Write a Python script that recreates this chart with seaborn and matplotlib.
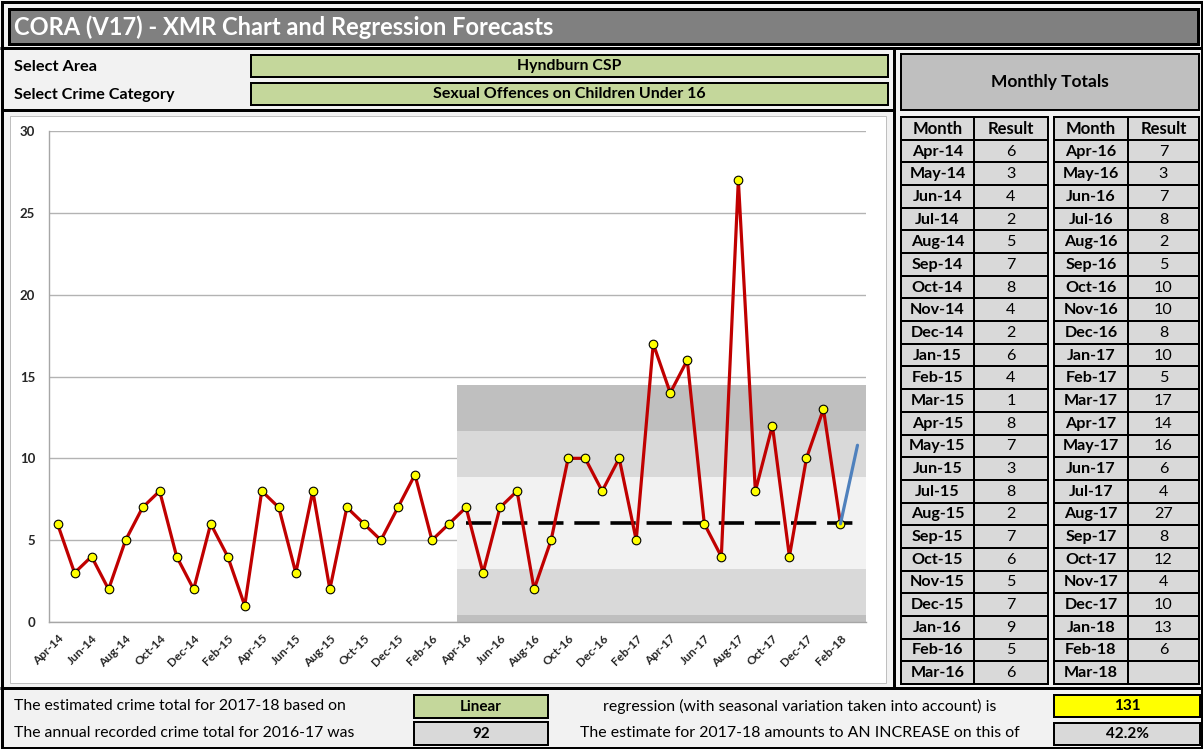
import numpy as np
import pandas as pd
import matplotlib
matplotlib.use('Agg')
import matplotlib.pyplot as plt
import matplotlib.patches as patches
import seaborn as sns

# ---- data read from the sheet ----
months = list(pd.date_range('2014-04-01', periods=48, freq='MS').strftime('%b-%y'))
results = [6, 3, 4, 2, 5, 7, 8, 4, 2, 6, 4, 1,
           8, 7, 3, 8, 2, 7, 6, 5, 7, 9, 5, 6,
           7, 3, 7, 8, 2, 5, 10, 10, 8, 10, 5, 17,
           14, 16, 6, 4, 27, 8, 12, 4, 10, 13, 6, None]
forecast_months = ['Feb-18', 'Mar-18']
forecast_values = [6, 10.8]
xmr_start = 'Apr-16'
xmr_centre = 6.06
xmr_sigma = 2.81

title = 'CORA (V17) - XMR Chart and Regression Forecasts'
area = 'Hyndburn CSP'
crime_category = 'Sexual Offences on Children Under 16'
method = 'Linear'
estimate_1718 = '131'
total_1617 = '92'
change_pct = '42.2%'

df = pd.DataFrame({'month': months, 'result': results})
df['idx'] = range(len(df))

sns.set_style('white')
plt.rcParams['font.family'] = ['Lato', 'DejaVu Sans']

PX = 0.72  # points per pixel at dpi 100
GREEN = '#c4d79b'
LGREY = '#d9d9d9'

fig = plt.figure(figsize=(12.03, 7.49), dpi=100, facecolor='#f2f2f2')

# background layer in pixel coords for the sheet furniture
bg = fig.add_axes([0, 0, 1, 1])
bg.set_xlim(0, 1203)
bg.set_ylim(749, 0)
bg.axis('off')


def box(x0, y0, x1, y1, fc, ec='black', lw=2.0):
    bg.add_patch(patches.Rectangle((x0, y0), x1 - x0, y1 - y0, facecolor=fc,
                                   edgecolor=ec, linewidth=lw * PX))


def hline(x0, x1, y, lw=3):
    bg.plot([x0, x1], [y, y], color='black', lw=lw * PX, solid_capstyle='butt')


def vline(x, y0, y1, lw=3):
    bg.plot([x, x], [y0, y1], color='black', lw=lw * PX, solid_capstyle='butt')


def txt(x, y, s, size=10.5, bold=False, ha='left', color='black'):
    bg.text(x, y, s, fontsize=size, fontweight='bold' if bold else 'normal',
            ha=ha, va='center', color=color)


# outer frame, title bar, dividers
box(1.5, 1.5, 1201.5, 747.5, 'none', lw=3)
box(9, 9, 1198, 44, '#808080', lw=3)
txt(14, 27, title, size=17, bold=True, color='white')
hline(0, 1203, 47.5)
hline(2, 894, 110)
vline(894, 47.5, 688)
hline(0, 1203, 688)

# selectors
txt(14, 67, 'Select Area', size=11.8, bold=True)
txt(14, 95, 'Select Crime Category', size=11.6, bold=True)
box(251, 55, 888, 77, GREEN)
box(251, 83, 888, 105, GREEN)
txt(569, 66, area, size=11.4, bold=True, ha='center')
txt(569, 94, crime_category, size=11.5, bold=True, ha='center')

# monthly totals table
box(901, 54, 1199, 110, '#bfbfbf')
txt(1050, 82, 'Monthly Totals', size=12.5, bold=True, ha='center')
row_h = (684 - 117) / 25
for cols, block in [((901, 974, 1048), slice(0, 24)), ((1054, 1128, 1199), slice(24, 48))]:
    rows = [('Month', 'Result', True)] + [
        (m, '' if r is None else str(r), False)
        for m, r in zip(months[block], results[block])]
    for i, (m, r, head) in enumerate(rows):
        y0 = 117 + i * row_h
        box(cols[0], y0, cols[1], y0 + row_h, LGREY)
        box(cols[1], y0, cols[2], y0 + row_h, LGREY)
        fs = 12 if head else 11.6
        txt((cols[0] + cols[1]) / 2, y0 + row_h / 2 + 0.5, m, size=fs, bold=True, ha='center')
        txt((cols[1] + cols[2]) / 2, y0 + row_h / 2 + 0.5, r, size=fs, bold=head, ha='center')

# summary rows
txt(14, 706, 'The estimated crime total for 2017-18 based on', size=11.3)
txt(14, 733, 'The annual recorded crime total for 2016-17 was', size=11.3)
box(414, 695, 548, 718, GREEN)
box(414, 722, 548, 745, LGREY)
txt(481, 707, method, size=11, bold=True, ha='center')
txt(481, 734, total_1617, size=11, bold=True, ha='center')
txt(800, 706, 'regression (with seasonal variation taken into account) is', size=11.4, ha='center')
txt(800, 733, 'The estimate for 2017-18 amounts to AN INCREASE on this of', size=11.4, ha='center')
box(1054, 695, 1200, 717, '#ffff00')
box(1054, 723, 1200, 745, LGREY)
txt(1127, 706, estimate_1718, size=11, bold=True, ha='center')
txt(1127, 734, change_pct, size=11, bold=True, ha='center')

# chart frame
box(10, 116, 886, 683, 'white', ec='#bfbfbf', lw=1)

# ---- XMR chart ----
ax = fig.add_axes([49 / 1203, (749 - 622) / 749, 817 / 1203, 491 / 749])
ax.set_facecolor('white')
n = len(months)
x_start = months.index(xmr_start)

levels = [xmr_centre + k * xmr_sigma for k in range(-3, 4)]
band_cols = ['#bfbfbf', LGREY, '#f2f2f2', '#f2f2f2', LGREY, '#bfbfbf']
for lo, hi, c in zip(levels[:-1], levels[1:], band_cols):
    ax.fill_between([x_start - 0.5, n - 0.5], max(lo, 0), hi, color=c, lw=0, zorder=1)

sns.lineplot(x=[x_start, n - 1], y=[xmr_centre, xmr_centre], ax=ax, color='black',
             lw=2.6, linestyle=(0, (7, 3)), zorder=3)
sns.lineplot(data=df.dropna(), x='idx', y='result', ax=ax, color='#c00000', lw=2.3,
             marker='o', markersize=6.2, markerfacecolor='#ffff00',
             markeredgecolor='black', markeredgewidth=0.8, zorder=4)
sns.lineplot(x=[months.index(m) for m in forecast_months], y=forecast_values, ax=ax,
             color='#4f81bd', lw=2.3, zorder=5)

ax.set_xlim(-0.5, n - 0.5)
ax.set_ylim(0, 30)
ax.set_yticks(range(0, 31, 5))
ax.set_xticks(range(0, n, 2))
ax.set_xticklabels(months[::2], rotation=45, ha='right', rotation_mode='anchor',
                   fontsize=8.6, fontweight='bold')
ax.set_xticks(np.arange(-0.5, n, 2), minor=True)
for lab in ax.get_yticklabels():
    lab.set_fontweight('bold')
    lab.set_fontsize(9.5)
ax.tick_params(axis='x', which='major', length=0, pad=8)
ax.tick_params(axis='x', which='minor', length=4, color='#a6a6a6', width=1)
ax.tick_params(axis='y', length=4, color='#a6a6a6', width=1, pad=6)
ax.set_axisbelow(True)
ax.grid(axis='y', color='#b3b3b3', lw=1)
ax.grid(axis='x', visible=False)
for side in ['top', 'right']:
    ax.spines[side].set_visible(False)
for side in ['left', 'bottom']:
    ax.spines[side].set_color('#a6a6a6')
    ax.spines[side].set_linewidth(1)
ax.set_xlabel('')
ax.set_ylabel('')

fig.savefig('out.png', dpi=100, facecolor=fig.get_facecolor())
